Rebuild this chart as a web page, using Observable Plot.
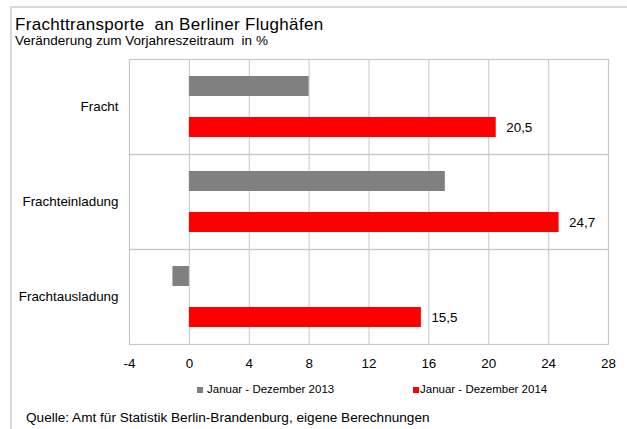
<!DOCTYPE html>
<html><head><meta charset="utf-8">
<script src="https://cdn.jsdelivr.net/npm/d3@7"></script>
<script src="https://cdn.jsdelivr.net/npm/@observablehq/plot@0.6"></script>
<style>
body{margin:0;background:#fff;font-family:"Liberation Sans",Arial,sans-serif;color:#000;}
#wrap{position:relative;width:627px;height:429px;overflow:hidden;}
#border{position:absolute;left:10px;top:6px;right:-5px;bottom:-5px;border-top:2px solid #d9d9d9;border-left:2px solid #d9d9d9;}
#chart{position:absolute;left:0;top:0;}
.t{position:absolute;white-space:pre;line-height:1;}
#title{left:15px;top:15.5px;font-size:17px;letter-spacing:0.3px;}
#subtitle{left:15px;top:33.5px;font-size:13.5px;}
#caption{left:26px;top:410.5px;font-size:13.6px;}
.lg{position:absolute;top:384px;font-size:11.5px;line-height:1;white-space:pre;}
.sw{position:absolute;width:6px;height:6px;top:387px;}
</style>
</head><body>
<div id="wrap">
  <div id="border"></div>
  <div id="chart"></div>
  <div class="t" id="title"></div>
  <div class="t" id="subtitle"></div>
  <div class="t" id="caption"></div>
</div>
<script>
const categories = ["Fracht", "Frachteinladung", "Frachtausladung"];
const series = ["Januar - Dezember 2013", "Januar - Dezember 2014"];
const values2013 = [8.0, 17.1, -1.1];
const values2014 = [20.5, 24.7, 15.5];
const seriesColors = ["#808080", "#ff0000"];
const xTicks = [-4, 0, 4, 8, 12, 16, 20, 24, 28];
const titleText = "Frachttransporte  an Berliner Flughäfen";
const subtitleText = "Veränderung zum Vorjahreszeitraum  in %";
const captionText = "Quelle: Amt für Statistik Berlin-Brandenburg, eigene Berechnungen";

const data = [];
categories.forEach((c, i) => {
  data.push({category: c, series: series[0], value: values2013[i]});
  data.push({category: c, series: series[1], value: values2014[i]});
});

document.getElementById("title").textContent = titleText;
document.getElementById("subtitle").textContent = subtitleText;
document.getElementById("caption").textContent = captionText;

const fmt = v => v.toFixed(1).replace(".", ",");

const plot = Plot.plot({
  width: 627,
  height: 429,
  marginTop: 58,
  marginBottom: 85,
  marginLeft: 129,
  marginRight: 19,
  style: {background: "transparent", fontFamily: "'Liberation Sans', Arial, sans-serif", fontSize: "13.4px", color: "#000"},
  x: {domain: [-4, 28], ticks: xTicks, tickSize: 0, tickPadding: 14, label: null, tickFormat: d => String(d)},
  y: {domain: series, axis: null, paddingInner: 0.52, paddingOuter: 0.4},
  fy: {domain: categories, axis: "left", label: null, tickSize: 0, tickPadding: 11, padding: 0},
  color: {domain: series, range: seriesColors},
  marks: [
    Plot.gridX(xTicks, {stroke: "#c8c8c8", strokeOpacity: 1}),
    Plot.frame({stroke: "#c8c8c8", strokeWidth: 1.2}),
    Plot.barX(data, {x: "value", y: "series", fy: "category", fill: "series"}),
    Plot.text(data.filter(d => d.series === series[1]), {
      x: "value", y: "series", fy: "category", text: d => fmt(d.value),
      dx: 10, textAnchor: "start", fontSize: 13.4, fill: "#000"
    })
  ]
});
document.getElementById("chart").appendChild(plot);

const wrap = document.getElementById("wrap");
const legendPos = [{sx: 197, tx: 207}, {sx: 413, tx: 420}];
series.forEach((s, i) => {
  const sw = document.createElement("div");
  sw.className = "sw";
  sw.style.left = legendPos[i].sx + "px";
  sw.style.background = seriesColors[i];
  wrap.appendChild(sw);
  const t = document.createElement("div");
  t.className = "lg";
  t.style.left = legendPos[i].tx + "px";
  t.textContent = s;
  wrap.appendChild(t);
});
</script>
</body></html>
